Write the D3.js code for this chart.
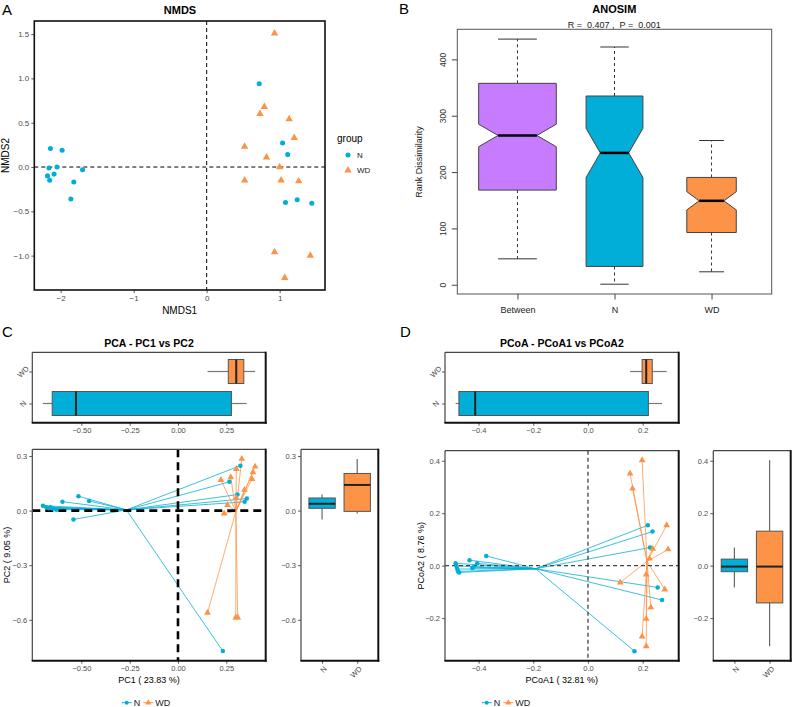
<!DOCTYPE html>
<html><head><meta charset="utf-8">
<script src="https://cdn.jsdelivr.net/npm/d3@7"></script>
<style>body{margin:0;background:#fff}svg{font-family:"Liberation Sans",Arial,Helvetica,sans-serif}</style>
</head><body><svg id="c" width="793" height="707"></svg>
<script>
// ================= DATA =================
const groups = ["N", "WD"];
// Panel A: NMDS
const nmdsNx  = [-2.14,-1.98,-2.16,-2.05,-2.18,-2.09,-2.15,-1.70,-1.82,-1.86, 0.72,1.04,1.11,1.08,1.24,1.44];
const nmdsNy  = [0.21,0.19,-0.01,0.00,-0.10,-0.08,-0.15,-0.03,-0.17,-0.36, 0.94,0.27,0.14,-0.40,-0.37,-0.41];
const nmdsWDx = [0.93,0.79,0.73,1.13,1.20,0.52,0.82,1.00,0.52,1.02,1.26,0.93,1.42,1.07];
const nmdsWDy = [1.51,0.68,0.60,0.54,0.33,0.23,0.11,0.00,-0.15,-0.15,-0.16,-0.96,-1.00,-1.25];
const nmdsXTicks = [-2,-1,0,1];
const nmdsYTicks = [-1.0,-0.5,0.0,0.5,1.0,1.5];
// Panel B: ANOSIM
const anosimGroups = ["Between","N","WD"];
const anosimMin = [46, 1, 23];
const anosimQ1  = [168, 32.5, 92.7];
const anosimMed = [265, 234, 149];
const anosimQ3  = [357.5, 335, 190.5];
const anosimMax = [436, 422, 256];
const anosimPairs = [224, 120, 91];
const anosimYTicks = [0,100,200,300,400];
const anosimStat = "R =  0.407 ,  P =  0.001";
// Panel C: PCA
const pcaNx  = [-0.699,-0.682,-0.668,-0.660,-0.648,-0.630,-0.598,-0.541,-0.515,-0.460, 0.323,0.266,0.308,0.345,0.356,0.232];
const pcaNy  = [0.027,0.019,0.013,0.019,0.011,0.005,0.049,-0.049,0.079,0.053, 0.247,0.158,0.088,0.048,0.066,-0.772];
const pcaWDx = [0.222,0.273,0.302,0.330,0.399,0.388,0.383,0.344,0.301,0.256,0.239,0.153,0.299,0.309];
const pcaWDy = [0.168,0.183,0.229,0.284,0.242,0.211,0.174,0.114,0.070,0.031,-0.016,-0.561,-0.587,-0.587];
const pcaXTicks = [-0.50,-0.25,0.00,0.25];
const pcaYTicks = [-0.6,-0.3,0.0,0.3];
// Panel D: PCoA
const pcoaNx  = [-0.484,-0.481,-0.478,-0.475,-0.471,-0.433,-0.423,-0.420,-0.405,-0.372, 0.219,0.236,0.227,0.255,0.271,0.170];
const pcoaNy  = [0.009,-0.001,-0.013,-0.022,-0.026,0.021,-0.009,-0.006,0.009,0.037, 0.154,0.130,0.069,-0.083,-0.131,-0.326];
const pcoaWDx = [0.198,0.154,0.163,0.288,0.293,0.237,0.225,0.213,0.118,0.281,0.230,0.213,0.198,0.213];
const pcoaWDy = [0.402,0.351,0.294,0.154,0.062,0.064,0.027,-0.034,-0.064,-0.091,-0.159,-0.203,-0.270,-0.307];
const pcoaXTicks = [-0.4,-0.2,0.0,0.2];
const pcoaYTicks = [-0.2,0.0,0.2,0.4];

// ================= STYLE =================
const COL = {N:"#00AED7", WD:"#FD9347", Between:"#C77CFF"};
const svg = d3.select("#c");

function expand(ext, f){ const r = ext[1]-ext[0]; return [ext[0]-r*f, ext[1]+r*f]; }
function styleAxis(sel, fs){
  sel.select(".domain").remove();
  sel.selectAll(".tick line").attr("stroke","#333").attr("stroke-width",0.8);
  sel.selectAll(".tick text").attr("fill","#4d4d4d").style("font-size",(fs||8)+"px");
}
function txt(x,y,s,o){
  o=o||{};
  const t = svg.append("text").attr("x",x).attr("y",y).text(s)
    .attr("text-anchor",o.anchor||"middle").style("font-size",(o.size||10)+"px")
    .attr("fill",o.fill||"#000");
  if(o.bold) t.style("font-weight","bold");
  if(o.rot!==undefined) t.attr("transform",`rotate(${o.rot},${x},${y})`);
  return t;
}
function ggFrame(x0,y0,x1,y1){
  const g = svg.append("g");
  g.append("line").attr("x1",x0).attr("y1",y0).attr("x2",x1).attr("y2",y0).attr("stroke","#444").attr("stroke-width",1.2);
  g.append("line").attr("x1",x0).attr("y1",y0).attr("x2",x0).attr("y2",y1).attr("stroke","#444").attr("stroke-width",1.2);
  g.append("line").attr("x1",x1).attr("y1",y0-0.6).attr("x2",x1).attr("y2",y1+1).attr("stroke","#111").attr("stroke-width",2);
  g.append("line").attr("x1",x0-0.6).attr("y1",y1).attr("x2",x1+1).attr("y2",y1).attr("stroke","#111").attr("stroke-width",2);
}
function sym(type,size){ return d3.symbol().type(type==="N"?d3.symbolCircle:d3.symbolTriangle).size(size)(); }
function boxStats(vals){
  const s = vals.slice().sort(d3.ascending);
  const q1=d3.quantileSorted(s,0.25), med=d3.quantileSorted(s,0.5), q3=d3.quantileSorted(s,0.75);
  const iqr=q3-q1;
  return {q1,med,q3, lo:d3.min(s.filter(v=>v>=q1-1.5*iqr)), hi:d3.max(s.filter(v=>v<=q3+1.5*iqr))};
}

// ================= PANEL A =================
(function(){
  const L=34.3,R=325,T=21,B=290;
  const x = d3.scaleLinear().domain(expand(d3.extent([...nmdsNx,...nmdsWDx]),0.05)).range([L,R]);
  const y = d3.scaleLinear().domain(expand(d3.extent([...nmdsNy,...nmdsWDy]),0.05)).range([B,T]);
  svg.append("g").attr("transform",`translate(0,${B})`).call(d3.axisBottom(x).tickValues(nmdsXTicks).tickFormat(d3.format("d")).tickSize(3).tickPadding(2)).call(styleAxis);
  svg.append("g").attr("transform",`translate(${L},0)`).call(d3.axisLeft(y).tickValues(nmdsYTicks).tickFormat(d3.format(".1f")).tickSize(3).tickPadding(2)).call(styleAxis);
  svg.append("line").attr("x1",L).attr("x2",R).attr("y1",y(0)).attr("y2",y(0)).attr("stroke","#000").attr("stroke-dasharray","4,3");
  svg.append("line").attr("x1",x(0)).attr("x2",x(0)).attr("y1",T).attr("y2",B).attr("stroke","#000").attr("stroke-dasharray","4,3");
  const sets = [["N",nmdsNx,nmdsNy],["WD",nmdsWDx,nmdsWDy]];
  sets.forEach(([gname,xs,ys])=>{
    svg.append("g").selectAll("path").data(xs.map((v,i)=>[v,ys[i]])).join("path")
      .attr("d",sym(gname,gname==="N"?20:24)).attr("fill",COL[gname])
      .attr("transform",d=>`translate(${x(d[0])},${y(d[1])})`);
  });
  svg.append("rect").attr("x",L).attr("y",T).attr("width",R-L).attr("height",B-T).attr("fill","none").attr("stroke","#111").attr("stroke-width",1.6);
  txt(180,14,"NMDS",{bold:true,size:11});
  txt((L+R)/2,313.5,"NMDS1",{size:10});
  txt(9,(T+B)/2,"NMDS2",{size:10,rot:-90});
  txt(2,14.5,"A",{anchor:"start",size:15});
  // legend
  txt(337,141.5,"group",{anchor:"start",size:10});
  groups.forEach((gname,i)=>{
    svg.append("path").attr("d",sym(gname,gname==="N"?20:24)).attr("fill",COL[gname]).attr("transform",`translate(348,${155+i*15.3})`);
    txt(357,158+i*15.3,gname,{anchor:"start",size:8,fill:"#222"});
  });
})();

// ================= PANEL B =================
(function(){
  const L=457.3,R=771.7,T=29.3,B=294;
  const x = d3.scaleLinear().domain(expand([0.5,anosimGroups.length+0.5],0.04)).range([L,R]);
  const y = d3.scaleLinear().domain(expand([d3.min(anosimMin),d3.max(anosimMax)],0.04)).range([B,T]);
  const maxN = d3.max(anosimPairs);
  anosimGroups.forEach((gname,i)=>{
    const cx = i+1;
    const w = 0.4*Math.sqrt(anosimPairs[i])/Math.sqrt(maxN);
    const q1=anosimQ1[i],q3=anosimQ3[i],med=anosimMed[i];
    const nc = 1.58*(q3-q1)/Math.sqrt(anosimPairs[i]);
    const cl = med-nc, ch = med+nc;
    const g = svg.append("g");
    g.append("line").attr("x1",x(cx)).attr("x2",x(cx)).attr("y1",y(q3)).attr("y2",y(anosimMax[i])).attr("stroke","#333").attr("stroke-dasharray","3,3");
    g.append("line").attr("x1",x(cx)).attr("x2",x(cx)).attr("y1",y(q1)).attr("y2",y(anosimMin[i])).attr("stroke","#333").attr("stroke-dasharray","3,3");
    [anosimMax[i],anosimMin[i]].forEach(v=>g.append("line").attr("x1",x(cx-w/2)).attr("x2",x(cx+w/2)).attr("y1",y(v)).attr("y2",y(v)).attr("stroke","#333"));
    const pts = [[cx-w,q1],[cx+w,q1],[cx+w,cl],[cx+w/2,med],[cx+w,ch],[cx+w,q3],[cx-w,q3],[cx-w,ch],[cx-w/2,med],[cx-w,cl]];
    g.append("polygon").attr("points",pts.map(p=>[x(p[0]),y(p[1])].join(",")).join(" "))
      .attr("fill",COL[gname]).attr("stroke","#444").attr("stroke-width",1);
    g.append("line").attr("x1",x(cx-w/2)).attr("x2",x(cx+w/2)).attr("y1",y(med)).attr("y2",y(med)).attr("stroke","#000").attr("stroke-width",2.5);
  });
  svg.append("rect").attr("x",L).attr("y",T).attr("width",R-L).attr("height",B-T).attr("fill","none").attr("stroke","#555").attr("stroke-width",1);
  const ya = svg.append("g").attr("transform",`translate(${L},0)`).call(d3.axisLeft(y).tickValues(anosimYTicks).tickSize(5.5).tickFormat(d3.format("d")));
  ya.select(".domain").remove();
  ya.selectAll(".tick line").attr("stroke","#444");
  ya.selectAll(".tick text").attr("fill","#333").style("font-size","8.5px").attr("x",-14).attr("dy","0").attr("text-anchor","middle").attr("transform","rotate(-90,-14,0)").attr("y",3);
  const xa = svg.append("g").attr("transform",`translate(0,${B})`).call(d3.axisBottom(x).tickValues(anosimGroups.map((d,i)=>i+1)).tickSize(5.5).tickFormat((d,i)=>anosimGroups[i]));
  xa.select(".domain").remove();
  xa.selectAll(".tick line").attr("stroke","#444");
  xa.selectAll(".tick text").attr("fill","#222").style("font-size","9px").attr("y",13);
  txt(614.3,12.5,"ANOSIM",{bold:true,size:11});
  txt(614.3,27.5,anosimStat,{size:9,fill:"#222"}).style("white-space","pre").attr("xml:space","preserve");
  txt(422,162,"Rank Dissimilarity",{size:9,rot:-90,fill:"#222"});
  txt(399,13.5,"B",{anchor:"start",size:15});
})();

// ================= PANELS C & D =================
function ordPanel(o){
  const x = d3.scaleLinear().domain(expand(d3.extent([...o.Nx,...o.WDx]),0.05)).range([o.L,o.R]);
  const y = d3.scaleLinear().domain(expand(d3.extent([...o.Ny,...o.WDy]),0.05)).range([o.B,o.T]);
  const data = {N:o.Nx.map((v,i)=>[v,o.Ny[i]]), WD:o.WDx.map((v,i)=>[v,o.WDy[i]])};
  // --- top box (x distribution) ---
  const tb = {T:352.3,B:422.7};
  const yc = d3.scalePoint().domain(groups).range([tb.B,tb.T]).padding(0.6);
  svg.append("g").attr("transform",`translate(0,${tb.B})`).call(d3.axisBottom(x).tickValues(o.xTicks).tickFormat(d3.format(o.xFmt)).tickSize(3).tickPadding(2)).call(styleAxis, 7.5);
  const tya = svg.append("g").attr("transform",`translate(${o.L},0)`).call(d3.axisLeft(yc).tickSize(3).tickPadding(2)).call(styleAxis, 7.5);
  tya.selectAll(".tick text").attr("text-anchor","middle").attr("x",-9).attr("dy","0.3em").attr("transform","rotate(-45,-9,0)");
  groups.forEach(gname=>{
    const s = boxStats(data[gname].map(d=>d[0]));
    const cy = yc(gname), h = yc.step()*0.75;
    svg.append("line").attr("x1",x(s.lo)).attr("x2",x(s.q1)).attr("y1",cy).attr("y2",cy).attr("stroke","#777").attr("stroke-width",1.2);
    svg.append("line").attr("x1",x(s.q3)).attr("x2",x(s.hi)).attr("y1",cy).attr("y2",cy).attr("stroke","#777").attr("stroke-width",1.2);
    svg.append("rect").attr("x",x(s.q1)).attr("y",cy-h/2).attr("width",x(s.q3)-x(s.q1)).attr("height",h).attr("fill",COL[gname]).attr("stroke","#555").attr("stroke-width",1);
    svg.append("line").attr("x1",x(s.med)).attr("x2",x(s.med)).attr("y1",cy-h/2).attr("y2",cy+h/2).attr("stroke","#222").attr("stroke-width",2);
  });
  ggFrame(o.L,tb.T,o.R,tb.B);
  // --- scatter ---
  svg.append("g").attr("transform",`translate(0,${o.B})`).call(d3.axisBottom(x).tickValues(o.xTicks).tickFormat(d3.format(o.xFmt)).tickSize(3).tickPadding(1.5)).call(styleAxis, 7.5);
  svg.append("g").attr("transform",`translate(${o.L},0)`).call(d3.axisLeft(y).tickValues(o.yTicks).tickFormat(d3.format(".1f")).tickSize(3).tickPadding(2)).call(styleAxis, 7.5);
  groups.forEach(gname=>{
    const cx = d3.mean(data[gname],d=>d[0]), cy = d3.mean(data[gname],d=>d[1]);
    svg.append("g").selectAll("line").data(data[gname]).join("line")
      .attr("x1",x(cx)).attr("y1",y(cy)).attr("x2",d=>x(d[0])).attr("y2",d=>y(d[1]))
      .attr("stroke",COL[gname]).attr("stroke-width",0.9).attr("opacity",0.85);
  });
  svg.append("line").attr("x1",o.L).attr("x2",o.R).attr("y1",y(0)).attr("y2",y(0)).attr("stroke",o.zCol).attr("stroke-width",o.zW).attr("stroke-dasharray",o.zDash);
  svg.append("line").attr("x1",x(0)).attr("x2",x(0)).attr("y1",o.T).attr("y2",o.B).attr("stroke",o.zCol).attr("stroke-width",o.zW).attr("stroke-dasharray",o.zDash);
  groups.forEach(gname=>{
    svg.append("g").selectAll("path").data(data[gname]).join("path")
      .attr("d",sym(gname,gname==="N"?16:20)).attr("fill",COL[gname])
      .attr("transform",d=>`translate(${x(d[0])},${y(d[1])})`);
  });
  ggFrame(o.L,o.T,o.R,o.B);
  // --- side box (y distribution) ---
  const xc = d3.scalePoint().domain(groups).range([o.SL,o.SR]).padding(0.6);
  svg.append("g").attr("transform",`translate(${o.SL},0)`).call(d3.axisLeft(y).tickValues(o.yTicks).tickFormat(d3.format(".1f")).tickSize(3).tickPadding(2)).call(styleAxis, 7.5);
  const sxa = svg.append("g").attr("transform",`translate(0,${o.B})`).call(d3.axisBottom(xc).tickSize(3).tickPadding(2)).call(styleAxis, 7.5);
  sxa.selectAll(".tick text").attr("text-anchor","end").attr("x",2).attr("y",6).attr("dy","0.5em").attr("transform","rotate(-45,2,6)");
  groups.forEach(gname=>{
    const s = boxStats(data[gname].map(d=>d[1]));
    const cx = xc(gname), w = xc.step()*0.75;
    svg.append("line").attr("x1",cx).attr("x2",cx).attr("y1",y(s.lo)).attr("y2",y(s.q1)).attr("stroke","#666").attr("stroke-width",1.2);
    svg.append("line").attr("x1",cx).attr("x2",cx).attr("y1",y(s.q3)).attr("y2",y(s.hi)).attr("stroke","#666").attr("stroke-width",1.2);
    svg.append("rect").attr("x",cx-w/2).attr("y",y(s.q3)).attr("width",w).attr("height",y(s.q1)-y(s.q3)).attr("fill",COL[gname]).attr("stroke","#555").attr("stroke-width",1);
    svg.append("line").attr("x1",cx-w/2).attr("x2",cx+w/2).attr("y1",y(s.med)).attr("y2",y(s.med)).attr("stroke","#222").attr("stroke-width",2);
  });
  ggFrame(o.SL,o.T,o.SR,o.B);
  // --- texts ---
  txt((o.L+o.R)/2,346.5,o.title,{bold:true,size:10.5});
  txt((o.L+o.R)/2,682.5,o.xTitle,{size:9});
  txt(o.yTitleX,(o.T+o.B)/2,o.yTitle,{size:9,rot:-90});
  txt(o.letterX,337,o.letter,{anchor:"start",size:15});
  // legend
  const ly = 702.7;
  groups.forEach((gname,i)=>{
    const xx = o.legX + i*21.6;
    svg.append("line").attr("x1",xx).attr("x2",xx+10).attr("y1",ly).attr("y2",ly).attr("stroke",COL[gname]).attr("stroke-width",1);
    svg.append("path").attr("d",sym(gname,gname==="N"?12:16)).attr("fill",COL[gname]).attr("transform",`translate(${xx+5},${ly})`);
    txt(xx+12,ly+3.3,gname,{anchor:"start",size:9,fill:"#222"});
  });
}

ordPanel({Nx:pcaNx,Ny:pcaNy,WDx:pcaWDx,WDy:pcaWDy,L:32.3,R:265.7,T:449.3,B:660.7,SL:301,SR:378.3,
  xTicks:pcaXTicks,yTicks:pcaYTicks,xFmt:".2f",zCol:"#000",zW:2.6,zDash:"8,5",
  title:"PCA - PC1 vs PC2",xTitle:"PC1 ( 23.83 %)",yTitle:"PC2 ( 9.05 %)",yTitleX:10,letter:"C",letterX:2,legX:121.7});
ordPanel({Nx:pcoaNx,Ny:pcoaNy,WDx:pcoaWDx,WDy:pcoaWDy,L:445,R:678.7,T:450.7,B:660.7,SL:713.3,SR:790.7,
  xTicks:pcoaXTicks,yTicks:pcoaYTicks,xFmt:".1f",zCol:"#444",zW:1.3,zDash:"4,3",
  title:"PCoA - PCoA1 vs PCoA2",xTitle:"PCoA1 ( 32.81 %)",yTitle:"PCoA2 ( 8.76 %)",yTitleX:424,letter:"D",letterX:400,legX:481.7});
</script></body></html>
